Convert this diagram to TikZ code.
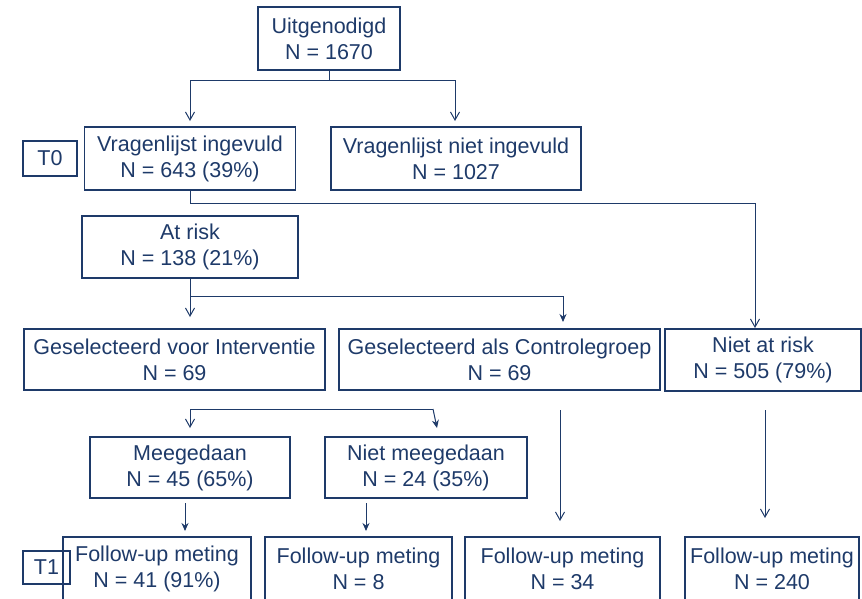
\documentclass[tikz,border=0pt]{standalone}
\usepackage{fontspec}
\setmainfont{Liberation Sans}
\usetikzlibrary{arrows.meta}
\definecolor{navy}{RGB}{30,58,105}
\begin{document}
\begin{tikzpicture}[x=1pt,y=-1pt,
	every node/.style={font=\fontsize{21.5}{26}\selectfont,text=navy,align=center},
	box/.style={draw=navy,line width=1.5pt,inner sep=0pt},
	lbl/.style={draw=navy,line width=1.1pt,inner sep=0pt},
	con/.style={draw=navy,line width=1pt},
	arr/.style={con,-{Straight Barb[length=8pt,width=9pt,line width=1pt]}},
	arrf/.style={con,-{Stealth[length=8pt,width=7pt]}}]
	\useasboundingbox (0,0) rectangle (862,598);
	\clip (0,0) rectangle (862,598);
	% boxes
	\node[box,minimum width=142pt,minimum height=63pt] (uit) at (329,38.5) {Uitgenodigd\\N = 1670};
	\node[box,minimum width=211pt,minimum height=63pt] (ving) at (190,158.5) {Vragenlijst ingevuld\\N = 643 (39\%)};
	\node[box,minimum width=250pt,minimum height=63pt] (vniet) at (456,158.5) {Vragenlijst niet ingevuld\\N = 1027};
	\node[lbl,minimum width=54pt,minimum height=35pt] (t0) at (50,158.5) {T0};
	\node[box,minimum width=216pt,minimum height=62pt] (risk) at (190,247) {At risk\\N = 138 (21\%)};
	\node[box,minimum width=301pt,minimum height=61pt] (interv) at (174.5,359.5) {Geselecteerd voor Interventie\\N = 69};
	\node[box,minimum width=321pt,minimum height=61pt] (contr) at (499.5,359.5) {Geselecteerd als Controlegroep\\N = 69};
	\node[box,minimum width=196pt,minimum height=62pt] (niet) at (763,360) {Niet at risk\\N = 505 (79\%)};
	\node[box,minimum width=200pt,minimum height=61pt] (mee) at (190,467.5) {Meegedaan\\N = 45 (65\%)};
	\node[box,minimum width=202pt,minimum height=61pt] (nmee) at (426,467.5) {Niet meegedaan\\N = 24 (35\%)};
	\foreach \n/\x/\w/\t in {f1/157/188/N = 41 (91\%),f2/358.5/187/N = 8,f3/562.5/195/N = 34,f4/772/174/N = 240}{
		\node[box,minimum width=\w pt,minimum height=63pt] (\n) at (\x,568.5) {Follow-up meting\\\t};
	}
	\node[lbl,minimum width=47pt,minimum height=33pt] (t1) at (46.5,567.5) {T1};
	% connectors
	\path (329,80) coordinate (j1)
		(190,121) coordinate (a1)
		(455,121) coordinate (a2)
		(190,203) coordinate (j2)
		(755,328) coordinate (a3)
		(190,296) coordinate (j3)
		(190,317) coordinate (a4)
		(563,322) coordinate (a5)
		(190,409) coordinate (j4)
		(433,409) coordinate (j4r)
		(190,428) coordinate (a6)
		(437,428) coordinate (a7)
		(185,503) coordinate (s8) (185,531) coordinate (a8)
		(366,503) coordinate (s9) (366,531) coordinate (a9)
		(560,410) coordinate (s10) (560,521) coordinate (a10)
		(765,410) coordinate (s11) (765,518) coordinate (a11);
	\draw[con] (uit.south) -- (j1);
	\draw[arr] (j1) -| (a1);
	\draw[arr] (j1) -| (a2);
	\draw[con] (ving.south) -- (j2);
	\draw[arr] (j2) -| (a3);
	\draw[con] (risk.south) -- (j3);
	\draw[arr] (j3) -- (a4);
	\draw[arrf] (j3) -| (a5);
	\draw[con] (j4) -- (j4r);
	\draw[arr] (j4) -- (a6);
	\draw[arrf] (j4r) -- (a7);
	\draw[arrf] (s8) -- (a8);
	\draw[arrf] (s9) -- (a9);
	\draw[arr] (s10) -- (a10);
	\draw[arr] (s11) -- (a11);
\end{tikzpicture}
\end{document}
